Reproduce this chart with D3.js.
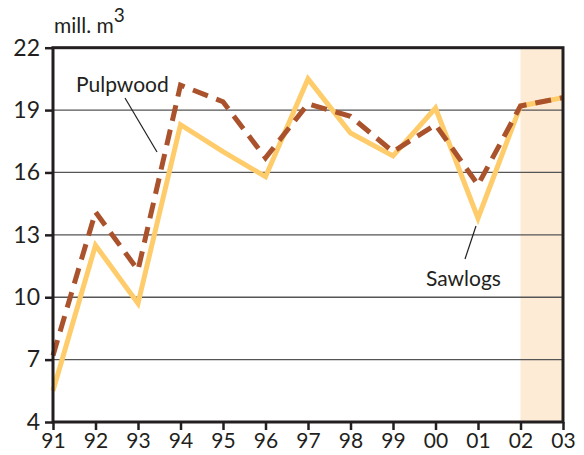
<!DOCTYPE html>
<html><head><meta charset="utf-8">
<script src="https://cdn.jsdelivr.net/npm/d3@7"></script>
<style>body{margin:0;background:#fff}svg{display:block}text{font-family:Lato,"Open Sans",sans-serif;fill:#231f20}</style>
</head><body><svg id="c" width="584" height="455"></svg>
<script>
const years = ["91","92","93","94","95","96","97","98","99","00","01","02","03"];
const sawlogs = [5.5,12.5,9.7,18.3,17.0,15.8,20.5,17.9,16.8,19.1,13.8,19.2,19.6];
const pulpwood = [7.2,14.1,11.3,20.2,19.4,16.7,19.3,18.7,17.0,18.3,15.4,19.2,19.6];
const yTicks = [4,7,10,13,16,19,22];
const forecastYears = ["02","03"];

const svg = d3.select("#c");
const L=53,R=563,T=47.7,B=422;
const x = d3.scalePoint().domain(years).range([L,R]);
const y = d3.scaleLinear().domain([4,22]).range([B,T]);

// shaded forecast
svg.append("rect").attr("x",x(forecastYears[0])).attr("y",T).attr("width",x(forecastYears[1])-x(forecastYears[0])).attr("height",B-T).attr("fill","#fdebd6");

// gridlines
svg.append("g").selectAll("line").data(yTicks.filter(d=>d>4&&d<22)).join("line")
  .attr("x1",L).attr("x2",R).attr("y1",d=>y(d)).attr("y2",d=>y(d)).attr("stroke","#555").attr("stroke-width",1.3);

const line = (arr)=>d3.line().x((d,i)=>x(years[i])).y(d=>y(d))(arr);
svg.append("path").attr("d",line(sawlogs)).attr("fill","none").attr("stroke","#ffcc6b").attr("stroke-width",5).attr("stroke-linejoin","miter");
svg.append("path").attr("d",line(pulpwood)).attr("fill","none").attr("stroke","#a9522b").attr("stroke-width",5).attr("stroke-dasharray","16,9");

// frame
svg.append("rect").attr("x",L).attr("y",T).attr("width",R-L).attr("height",B-T).attr("fill","none").attr("stroke","#231f20").attr("stroke-width",3);

// axes
const ya = svg.append("g").attr("transform",`translate(${L},0)`).call(d3.axisLeft(y).tickValues(yTicks).tickSize(8).tickPadding(5));
ya.select(".domain").remove();
ya.selectAll("line").attr("stroke","#231f20").attr("stroke-width",2.5);
ya.selectAll("text").attr("font-size",23).style("font-family","Lato,'Open Sans',sans-serif").attr("fill","#231f20");

const xa = svg.append("g").attr("transform",`translate(0,${B})`).call(d3.axisBottom(x).tickSize(8).tickPadding(3));
xa.select(".domain").remove();
xa.selectAll("line").attr("stroke","#231f20").attr("stroke-width",2.5);
xa.selectAll("text").attr("font-size",21).style("font-family","Lato,'Open Sans',sans-serif").attr("fill","#231f20");

// unit label
const u = svg.append("text").attr("x",54).attr("y",33).attr("font-size",21);
u.append("tspan").text("mill. m");
u.append("tspan").attr("dy",-11).attr("font-size",19).text("3");

// series labels
svg.append("text").attr("x",76).attr("y",92).attr("font-size",21).text("Pulpwood");
svg.append("line").attr("x1",125).attr("y1",98).attr("x2",157).attr("y2",152).attr("stroke","#231f20").attr("stroke-width",1.2);
svg.append("text").attr("x",426).attr("y",286).attr("font-size",21).text("Sawlogs");
svg.append("line").attr("x1",476).attr("y1",226).attr("x2",465).attr("y2",259).attr("stroke","#231f20").attr("stroke-width",1.2);
</script></body></html>
